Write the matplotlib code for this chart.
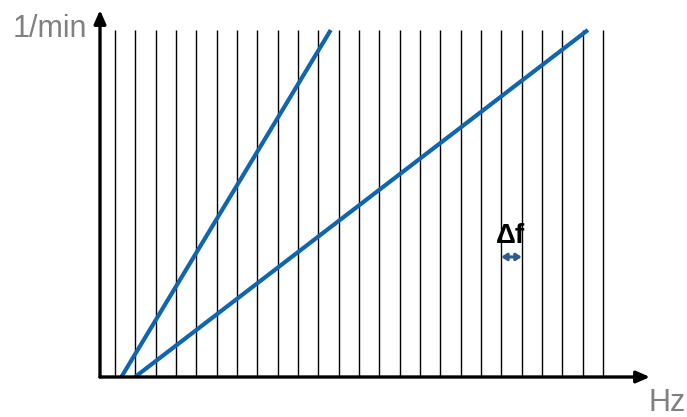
"""Frequency grid sketch: rpm vs Hz with two speed lines and a Δf bin."""

import matplotlib

matplotlib.use("Agg")
import matplotlib.pyplot as plt  # noqa: E402
import numpy as np  # noqa: E402

# grid of frequency bins (one line per Δf step)
grid_f = np.arange(25) + 0.74
grid_top = 100.0

# two speed lines: (f_start, f_end), rpm from 0 to grid_top
line_f = [(1.05, 11.35), (1.72, 24.0)]
line_rpm = [(0.0, 100.0), (0.0, 100.0)]

# Δf marker between two neighbouring bins
df_bin = (grid_f[19], grid_f[20])
df_rpm = 34.6

x_label = "Hz"
y_label = "1/min"

BLUE = "#0F65AE"
GRAY = "#808080"

plt.rcParams["font.family"] = ["Liberation Sans", "DejaVu Sans"]

fig = plt.figure(figsize=(6.87, 4.17), dpi=100)
ax = fig.add_axes([100 / 687, 40 / 417, 550 / 687, 367 / 417])
ax.set_xlim(0, 550 / 20.33)
ax.set_ylim(0, 367 / 3.47)
ax.axis("off")

ax.vlines(grid_f, 0, grid_top, color="black", linewidth=1.0)

for fx, ry in zip(line_f, line_rpm):
    ax.plot(fx, ry, color=BLUE, linewidth=3.0, solid_capstyle="butt")

# axes with arrow heads
arrow = dict(arrowstyle="-|>,head_length=0.8,head_width=0.35", color="black",
             linewidth=2.4, shrinkA=0, shrinkB=0)
ax.annotate("", xy=(1, 0), xytext=(0, 0), xycoords="axes fraction",
            arrowprops=arrow, annotation_clip=False)
ax.annotate("", xy=(0, 1), xytext=(0, 0), xycoords="axes fraction",
            arrowprops=arrow, annotation_clip=False)

# Δf annotation
ax.annotate("", xy=(df_bin[0], df_rpm), xytext=(df_bin[1], df_rpm),
            arrowprops=dict(arrowstyle="<|-|>,head_length=0.3,head_width=0.2",
                            color="#2F5A8A", linewidth=2.2, shrinkA=0, shrinkB=0))
ax.text(sum(df_bin) / 2 - 0.05, df_rpm + 2.2, "Δf", ha="center", va="bottom",
        fontsize=20, fontweight="bold", color="black")

fig.text(87 / 687, 1 - 29 / 417, y_label, ha="right", va="center",
         fontsize=22, color=GRAY)
fig.text(686 / 687, 1 - 403 / 417, x_label, ha="right", va="center",
         fontsize=22, color=GRAY)

fig.savefig("out.png", dpi=100)
plt.close(fig)
